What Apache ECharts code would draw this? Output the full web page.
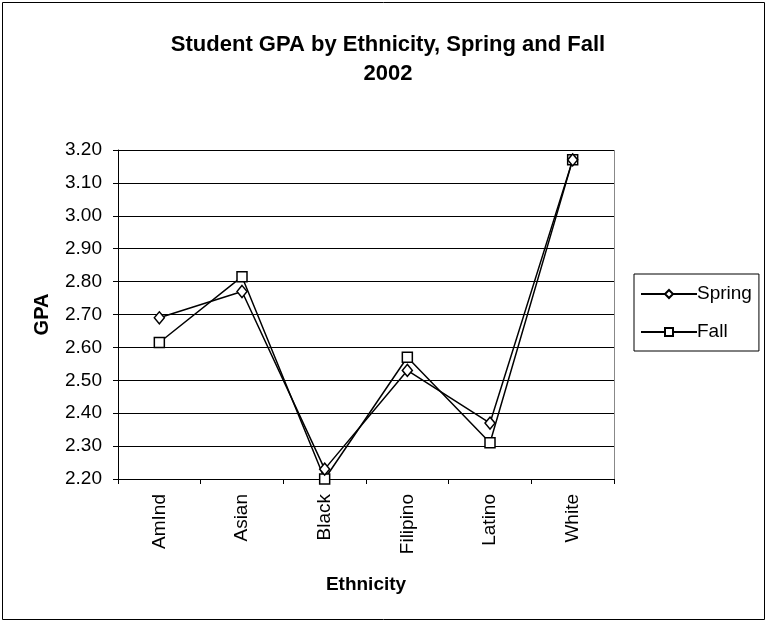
<!DOCTYPE html>
<html>
<head>
<meta charset="utf-8">
<script src="https://cdn.jsdelivr.net/npm/echarts@6/dist/echarts.min.js"></script>
<style>
  html, body { margin: 0; padding: 0; background: #fff; }
  #chart { width: 767px; height: 623px; }
</style>
</head>
<body>
<div id="chart"></div>
<script>
var categories = ['AmInd', 'Asian', 'Black', 'Filipino', 'Latino', 'White']
var spring = [2.69, 2.77, 2.23, 2.53, 2.37, 3.17]
var fall = [2.615, 2.815, 2.20, 2.57, 2.31, 3.17]

var font = '"Liberation Sans", Arial, sans-serif'
var chart = echarts.init(document.getElementById('chart'))

var option = {
    backgroundColor: '#fff',
    animation: false,
    textStyle: { fontFamily: font, color: '#000' },
    graphic: [{
        type: 'rect',
        shape: { x: 2.5, y: 2.5, width: 762, height: 617 },
        style: { fill: null, stroke: '#000', lineWidth: 1 },
        silent: true
    }, {
        // gray right border of the plot area
        type: 'line',
        shape: { x1: 614.5, y1: 150, x2: 614.5, y2: 479 },
        style: { stroke: '#888', lineWidth: 1 },
        silent: true
    }],
    title: {
        text: 'Student GPA by Ethnicity, Spring and Fall\n2002',
        left: 383,
        top: 25,
        textAlign: 'center',
        textStyle: { fontSize: 22, fontWeight: 'bold', lineHeight: 29, fontFamily: font, color: '#000' }
    },
    legend: {
        orient: 'vertical',
        left: 634,
        top: 274,
        padding: [10, 7, 9, 6],
        itemGap: 18,
        itemWidth: 56,
        itemHeight: 10,
        borderColor: '#000',
        borderWidth: 1,
        borderRadius: 0,
        textStyle: { fontSize: 19, lineHeight: 20, fontFamily: font, color: '#000', padding: [0, 0, 0, -5] },
        data: ['Spring', 'Fall']
    },
    grid: { left: 118, top: 150, width: 496, height: 329, containLabel: false },
    xAxis: {
        type: 'category',
        data: categories,
        boundaryGap: true,
        name: 'Ethnicity',
        nameLocation: 'middle',
        nameGap: 96,
        nameTextStyle: { fontSize: 19, fontWeight: 'bold', fontFamily: font, color: '#000' },
        axisLine: { lineStyle: { color: '#000', width: 1 } },
        axisTick: { show: true, length: 5, lineStyle: { color: '#000' } },
        axisLabel: { rotate: 90, fontSize: 19, color: '#000', fontFamily: font, margin: 15 },
        splitLine: { show: false }
    },
    yAxis: {
        type: 'value',
        min: 2.2,
        max: 3.2,
        interval: 0.1,
        name: 'GPA',
        nameLocation: 'middle',
        nameGap: 66,
        nameRotate: 90,
        nameTextStyle: { fontSize: 20, fontWeight: 'bold', fontFamily: font, color: '#000' },
        axisLine: { show: true, lineStyle: { color: '#000', width: 1 } },
        axisTick: { show: true, length: 5, lineStyle: { color: '#000' } },
        axisLabel: {
            fontSize: 19, color: '#000', fontFamily: font, margin: 16,
            formatter: function (v) { return v.toFixed(2) }
        },
        splitLine: { show: true, lineStyle: { color: '#000', width: 1 } }
    },
    series: [{
        name: 'Spring',
        type: 'line',
        data: spring,
        symbol: 'diamond',
        symbolSize: [10, 12],
        lineStyle: { color: '#000', width: 1.5 },
        itemStyle: { color: '#fff', borderColor: '#000', borderWidth: 1.5 },
        z: 3
    }, {
        name: 'Fall',
        type: 'line',
        data: fall,
        symbol: 'rect',
        symbolSize: 10,
        lineStyle: { color: '#000', width: 1.5 },
        itemStyle: { color: '#fff', borderColor: '#000', borderWidth: 1.5 },
        z: 2
    }]
}
chart.setOption(option)
</script>
</body>
</html>
